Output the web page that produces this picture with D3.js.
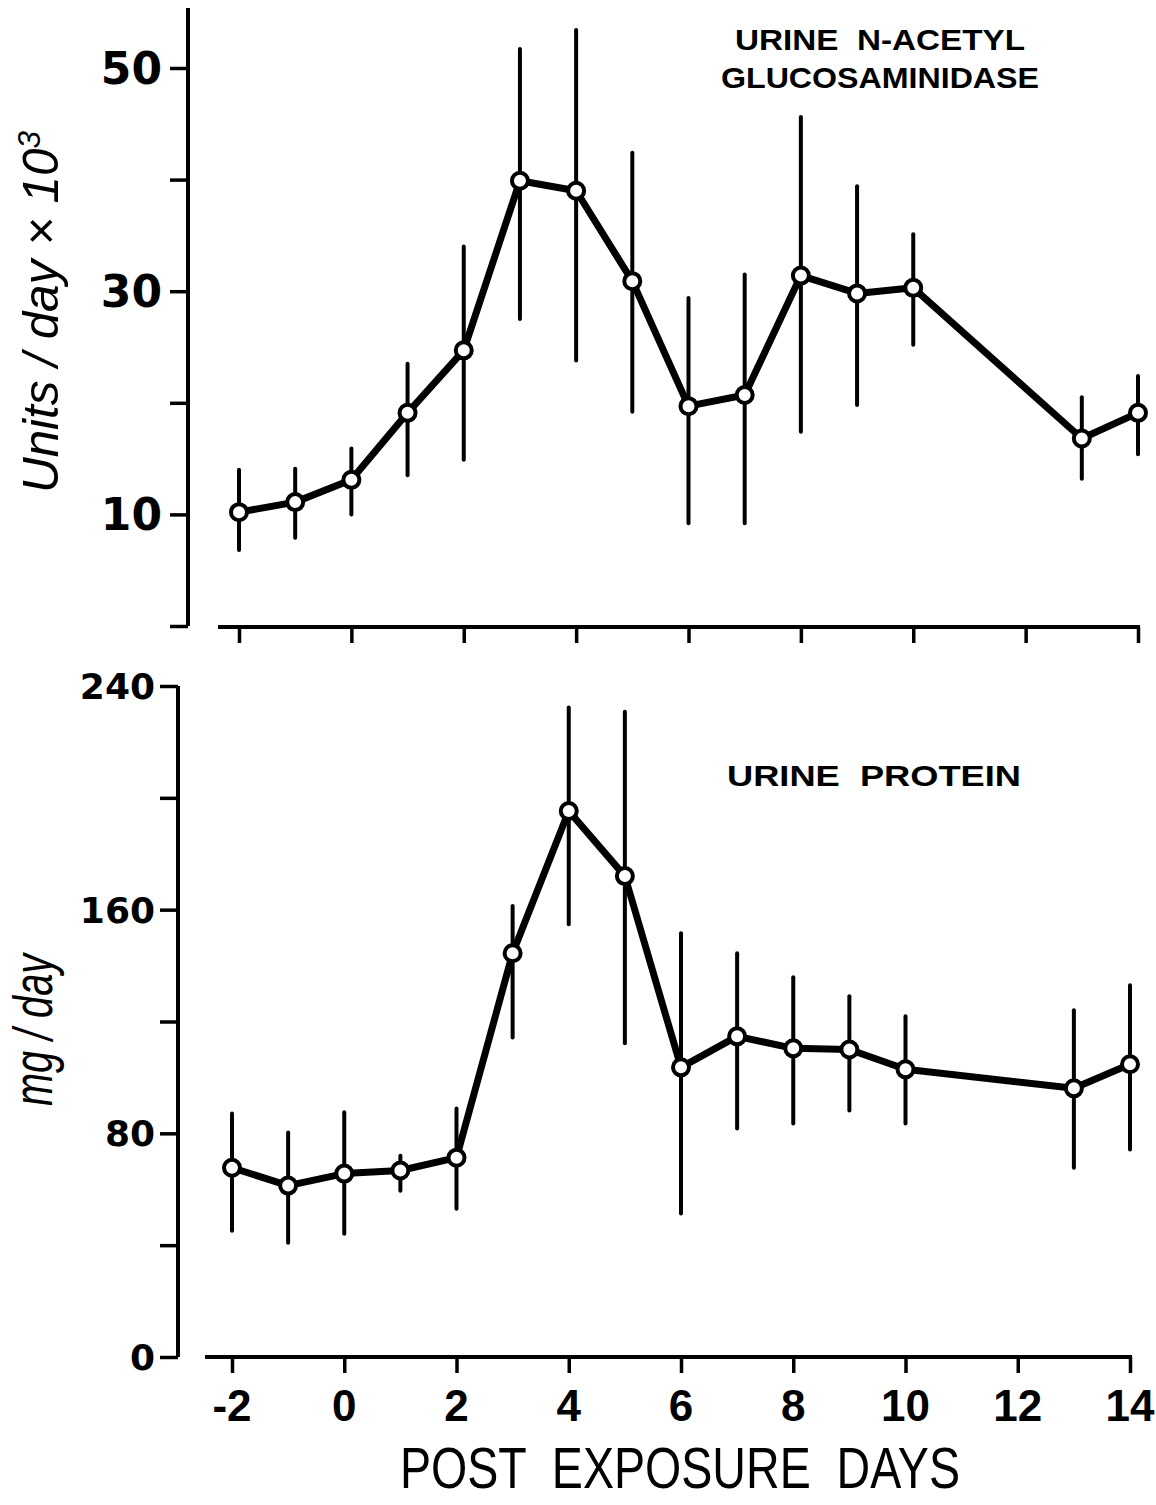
<!DOCTYPE html>
<html>
<head>
<meta charset="utf-8">
<script src="https://cdn.jsdelivr.net/npm/d3@7"></script>
<style>
    body { margin: 0; background: #fff; }
    svg { display: block; }
    text { white-space: pre; }
    .lbl { font-family: "DejaVu Sans", sans-serif; font-weight: bold; fill: #000; }
    .narrow { font-family: "Liberation Sans Narrow", "Liberation Sans", sans-serif; fill: #000; }
    .ttl { font-family: "Liberation Sans", Arial, sans-serif; font-weight: bold; fill: #000; }
</style>
</head>
<body>
<div id="chart"></div>
<script>
// days after exposure
const days = [-2, -1, 0, 1, 2, 3, 4, 5, 6, 7, 8, 9, 10, 13, 14];

// urine N-acetyl glucosaminidase, units/day x 10^3
const nagMean = [10.2, 11.1, 13.1, 19.1, 24.7, 39.9, 39.0, 30.9, 19.7, 20.7, 31.4, 29.8, 30.3, 16.8, 19.1];
const nagHigh = [14.0, 14.1, 15.9, 23.5, 34.0, 51.7, 53.4, 42.4, 29.4, 31.5, 45.6, 39.4, 35.1, 20.5, 22.4];
const nagLow  = [6.8, 7.9, 10.0, 13.5, 14.9, 27.5, 23.8, 19.2, 9.2, 9.2, 17.4, 19.8, 25.2, 13.2, 15.4];

// urine protein, mg/day
const protMean = [67.7, 61.3, 65.6, 66.7, 71.3, 144.4, 195.3, 172.0, 103.6, 114.7, 110.4, 110.0, 102.9, 96.1, 104.7];
const protHigh = [87.1, 80.3, 87.5, 72.0, 88.9, 161.3, 232.3, 230.8, 151.6, 144.4, 135.8, 129.0, 121.9, 124.0, 133.0];
const protLow  = [45.2, 40.9, 44.1, 59.5, 53.0, 114.3, 154.8, 112.2, 51.3, 81.7, 83.5, 88.2, 83.5, 67.7, 74.2];

const nagTicks = [0, 10, 20, 30, 40, 50];
const nagLabels = [10, 30, 50];
const protTicks = [0, 40, 80, 120, 160, 200, 240];
const protLabels = [0, 80, 160, 240];
const dayTicks = [-2, 0, 2, 4, 6, 8, 10, 12, 14];

const width = 1156, height = 1505;

const svg = d3.select("#chart").append("svg")
    .attr("width", width)
    .attr("height", height);

function drawPanel(opts) {
    const x = d3.scaleLinear().domain([-2, 14]).range(opts.xRange);
    const y = d3.scaleLinear().domain(opts.yDomain).range(opts.yRange);
    const g = svg.append("g");

    // y axis
    const yAxis = d3.axisLeft(y)
        .tickValues(opts.yTicks)
        .tickSize(18)
        .tickSizeOuter(0)
        .tickFormat("");
    const ya = g.append("g")
        .attr("transform", `translate(${opts.yAxisX},0)`)
        .call(yAxis);
    ya.select(".domain").attr("stroke-width", 4).attr("d", `M0,${opts.yTop}V${y(opts.yDomain[0])}`);
    ya.selectAll(".tick line").attr("stroke-width", 3.5);

    g.selectAll(".ylab")
        .data(opts.yLabels)
        .enter().append("text")
        .attr("class", "lbl")
        .attr("x", opts.yAxisX - opts.yLabGap)
        .attr("y", d => y(d))
        .attr("dy", "0.36em")
        .attr("text-anchor", "end")
        .style("font-size", opts.yFont + "px")
        .text(d => d);

    // x axis
    const xAxis = d3.axisBottom(x)
        .tickValues(dayTicks)
        .tickSize(16)
        .tickSizeOuter(0)
        .tickFormat("");
    const xa = g.append("g")
        .attr("transform", `translate(0,${opts.xAxisY})`)
        .call(xAxis);
    xa.select(".domain").attr("stroke-width", 4).attr("d", `M${opts.xLeft},0H${x(14) + 2}`);
    xa.selectAll(".tick line").attr("stroke-width", 3.5);

    if (opts.xLabels) {
        g.selectAll(".xlab")
            .data(dayTicks)
            .enter().append("text")
            .attr("class", "narrow")
            .attr("x", d => x(d))
            .attr("y", opts.xAxisY + 64)
            .attr("text-anchor", "middle")
            .style("font-size", "44px")
            .style("font-weight", "bold")
            .text(d => d);
    }

    const pts = days.map((d, i) => ({ day: d, m: opts.mean[i], hi: opts.high[i], lo: opts.low[i] }));

    // error bars
    g.selectAll(".err")
        .data(pts)
        .enter().append("line")
        .attr("x1", d => x(d.day))
        .attr("x2", d => x(d.day))
        .attr("y1", d => y(d.hi))
        .attr("y2", d => y(d.lo))
        .attr("stroke", "#000")
        .attr("stroke-width", 4)
        .attr("stroke-linecap", "round");

    const line = d3.line()
        .x(d => x(d.day))
        .y(d => y(d.m));

    g.append("path")
        .datum(pts)
        .attr("d", line)
        .attr("fill", "none")
        .attr("stroke", "#000")
        .attr("stroke-width", 7)
        .attr("stroke-linejoin", "round");

    g.selectAll(".pt")
        .data(pts)
        .enter().append("circle")
        .attr("cx", d => x(d.day))
        .attr("cy", d => y(d.m))
        .attr("r", 8)
        .attr("fill", "#fff")
        .attr("stroke", "#000")
        .attr("stroke-width", 4);

    // y title
    g.append("text")
        .attr("class", "narrow")
        .attr("transform", `translate(${opts.yTitleX},${opts.yTitleY}) rotate(-90)`)
        .attr("text-anchor", "middle")
        .style("font-size", opts.yTitleFont + "px")
        .style("font-style", "italic")
        .attr("textLength", opts.yTitleLen)
        .attr("lengthAdjust", "spacingAndGlyphs")
        .call(t => {
            t.append("tspan").text(opts.yTitle);
            if (opts.sup) {
                t.append("tspan").attr("dy", -18).style("font-size", "32px").text(opts.sup);
            }
        });

    // panel title
    opts.title.forEach((s, i) => {
        g.append("text")
            .attr("class", "ttl")
            .attr("x", opts.titleX)
            .attr("y", opts.titleY + i * 38)
            .attr("text-anchor", "middle")
            .style("font-size", "30px")
            .attr("textLength", opts.titleLen[i])
            .attr("lengthAdjust", "spacingAndGlyphs")
            .text(s);
    });
}

drawPanel({
    xRange: [239, 1138],
    yDomain: [0, 50],
    yRange: [626, 68],
    yTop: 8,
    yAxisX: 188,
    xAxisY: 627,
    xLeft: 218,
    yTicks: nagTicks,
    yLabels: nagLabels,
    yFont: 44,
    yLabGap: 26,
    xLabels: false,
    mean: nagMean, high: nagHigh, low: nagLow,
    yTitle: "Units / day \u00d7 10",
    sup: "3",
    yTitleFont: 50,
    yTitleX: 58, yTitleY: 312, yTitleLen: 362,
    title: ["URINE  N-ACETYL", "GLUCOSAMINIDASE"],
    titleX: 880, titleY: 50, titleLen: [290, 318]
});

drawPanel({
    xRange: [232, 1130],
    yDomain: [0, 240],
    yRange: [1357, 686],
    yTop: 686,
    yAxisX: 178,
    xAxisY: 1357,
    xLeft: 205,
    yTicks: protTicks,
    yLabels: protLabels,
    yFont: 36,
    yLabGap: 23,
    xLabels: true,
    mean: protMean, high: protHigh, low: protLow,
    yTitle: "mg / day",
    sup: null,
    yTitleFont: 56,
    yTitleX: 52, yTitleY: 1030, yTitleLen: 152,
    title: ["URINE  PROTEIN"],
    titleX: 874, titleY: 786, titleLen: [294]
});

svg.append("text")
    .attr("class", "narrow")
    .attr("x", 680)
    .attr("y", 1488)
    .attr("text-anchor", "middle")
    .style("font-size", "58px")
    .attr("textLength", 560)
    .attr("lengthAdjust", "spacingAndGlyphs")
    .text("POST  EXPOSURE  DAYS");
</script>
</body>
</html>
